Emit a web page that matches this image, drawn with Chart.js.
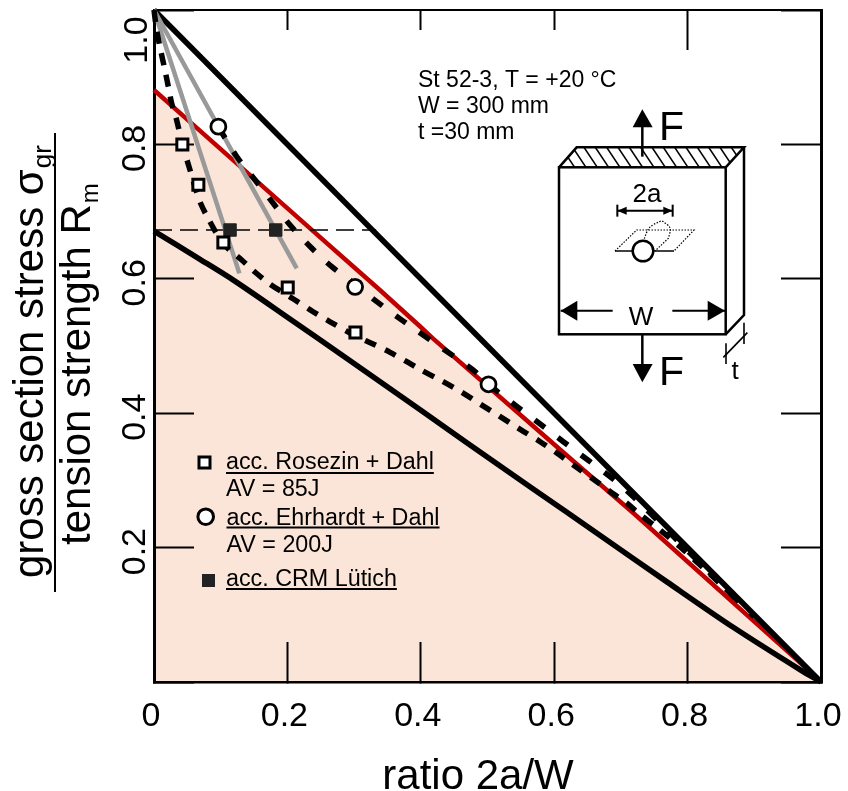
<!DOCTYPE html>
<html>
<head>
<meta charset="utf-8">
<style>html,body{margin:0;padding:0;background:#fff}canvas{display:block}</style>
<script src="https://cdn.jsdelivr.net/npm/chart.js@4/dist/chart.umd.min.js"></script>
</head>
<body>
<canvas id="c" width="848" height="791"></canvas>
<script>
const xTickLabels = ['0','0.2','0.4','0.6','0.8','1.0'];
const yTickLabels = ['','0.2','0.4','0.6','0.8','1.0'];

const upperLimit = [[0,1],[1,0]];
const redCurve = [[0,0.881],[0.059,0.829],[0.234,0.675],[0.339,0.583],[0.399,0.529],[0.4185,0.511],[0.619,0.337],[0.7186,0.2515],[0.964,0.033],[1,0]];
const lowerCurve = [[0,0.671],[0.069,0.629],[0.119,0.598],[0.194,0.547],[0.294,0.478],[0.399,0.405],[0.469,0.356],[0.569,0.287],[0.669,0.218],[0.769,0.149],[0.869,0.081],[0.969,0.018],[1,0]];
const dashedEhrhardt = [[0.0965,0.826],[0.124,0.782],[0.1515,0.747],[0.179,0.712],[0.204,0.68],[0.234,0.648],[0.2665,0.618],[0.3015,0.592],[0.334,0.566],[0.3737,0.537],[0.444,0.4885],[0.4788,0.464],[0.5015,0.443],[0.544,0.41],[0.579,0.384],[0.6137,0.3576],[0.651,0.33],[0.6865,0.3035],[0.7187,0.2757],[0.8088,0.1865],[0.849,0.147],[0.9,0.097]];
const dashedRosezin = [[0,1],[0.004,0.97],[0.01,0.94],[0.0165,0.91],[0.0215,0.886],[0.0265,0.861],[0.034,0.836],[0.0425,0.8],[0.054,0.762],[0.062,0.735],[0.07,0.712],[0.0825,0.6875],[0.104,0.652],[0.1315,0.628],[0.1515,0.61],[0.174,0.592],[0.209,0.57],[0.2385,0.551],[0.264,0.536],[0.302,0.515],[0.3285,0.503],[0.354,0.4905],[0.379,0.4766],[0.399,0.465],[0.4335,0.447],[0.4635,0.43],[0.4915,0.412],[0.519,0.395],[0.549,0.376],[0.579,0.3576],[0.604,0.3407],[0.634,0.319],[0.664,0.298],[0.6885,0.28],[0.709,0.266],[0.729,0.249],[0.759,0.226],[0.7935,0.197],[0.8535,0.142],[0.874,0.122]];
const greyLeft = [[0,1],[0.128,0.608]];
const greyRight = [[0,1],[0.214,0.6156]];
const thinDashed = [[0,0.6726],[0.333,0.6726]];
const rosezinPoints = [[0.0425,0.8],[0.0665,0.74],[0.104,0.654],[0.2005,0.587],[0.302,0.52]];
const ehrhardtPoints = [[0.0965,0.8264],[0.3015,0.588],[0.5015,0.443]];
const crmPoints = [[0.114,0.6726],[0.1825,0.6726]];

const toXY = a => a.map(p => ({x:p[0], y:p[1]}));
const FONT = '"Liberation Sans", Arial, sans-serif';
const line = (label, arr, color, width, order, extra) => Object.assign({
  label, data: toXY(arr), showLine:true, borderColor:color, borderWidth:width,
  pointRadius:0, pointHoverRadius:0, tension:0, fill:false, order, clip:6,
  borderCapStyle:'butt', borderJoinStyle:'round'
}, extra||{});
const marks = (label, arr, style, radius, bg, border, bw, order) => ({
  label, data: toXY(arr), showLine:false, pointStyle:style, pointRadius:radius,
  pointBackgroundColor:bg, pointBorderColor:border, pointBorderWidth:bw, order, clip:false
});

function txt(ctx, s, x, y, size, align){
  ctx.font = size+'px '+FONT; ctx.textAlign = align||'left'; ctx.textBaseline='alphabetic';
  ctx.fillStyle='#000'; ctx.fillText(s,x,y);
}
function under(ctx, s, x, y, size, uy){
  txt(ctx,s,x,y,size);
  const w = ctx.measureText(s).width;
  ctx.fillStyle='#000'; ctx.fillRect(x,uy,w,2);
}
function poly(ctx, pts, fill){
  ctx.beginPath();
  pts.forEach((p,i)=> i? ctx.lineTo(p[0],p[1]) : ctx.moveTo(p[0],p[1]));
  if(fill){ctx.closePath();ctx.fillStyle='#000';ctx.fill();} else ctx.stroke();
}

const annotations = {
  id:'annotations',
  afterDraw(chart){
    const ctx = chart.ctx;
    ctx.save();
    txt(ctx,'ratio 2a/W',478,789,42,'center');
    ctx.save();
    ctx.translate(43,578); ctx.rotate(-Math.PI/2);
    txt(ctx,'gross section stress σ',0,0,42);
    let w = ctx.measureText('gross section stress σ').width;
    txt(ctx,'gr',w+1,8,26);
    ctx.restore();
    ctx.save();
    ctx.translate(90,545); ctx.rotate(-Math.PI/2);
    txt(ctx,'tension strength R',0,0,42);
    w = ctx.measureText('tension strength R').width;
    txt(ctx,'m',w+1,8,24);
    ctx.restore();
    ctx.fillStyle='#000'; ctx.fillRect(54,133,2,459);
    ctx.save();
    ctx.translate(146.5,40); ctx.rotate(-Math.PI/2);
    txt(ctx,yTickLabels[5],0,0,34,'center');
    ctx.restore();
    txt(ctx,'St 52-3, T = +20 °C',418,87,23);
    txt(ctx,'W = 300 mm',418,113,23);
    txt(ctx,'t =30 mm',418,139,23);
    under(ctx,'acc. Rosezin + Dahl',226,469,23.3,472);
    txt(ctx,'AV = 85J',226,495.5,23.3);
    under(ctx,'acc. Ehrhardt + Dahl',226.5,525,23.3,526.5);
    txt(ctx,'AV = 200J',226.5,551.5,23.3);
    under(ctx,'acc. CRM Lütich',226,586,23.3,588);
    ctx.strokeStyle='#000'; ctx.lineWidth=3; ctx.fillStyle='#fff';
    ctx.fillRect(199,457,11,11); ctx.strokeRect(199,457,11,11);
    ctx.beginPath(); ctx.arc(205.7,516.7,7.8,0,Math.PI*2); ctx.fillStyle='#fff'; ctx.fill(); ctx.stroke();
    ctx.fillStyle='#222'; ctx.fillRect(202,574,13,13);
    // inset specimen
    const Z = a => a.map(p=>[540+p[0]/3, 90+p[1]/3]);
    ctx.lineJoin='miter'; ctx.lineCap='butt';
    ctx.strokeStyle='#000'; ctx.lineWidth=1.6;
    ctx.save();
    ctx.beginPath();
    Z([[57,232],[110,172],[612,172],[557,232]]).forEach((p,i)=> i?ctx.lineTo(p[0],p[1]):ctx.moveTo(p[0],p[1]));
    ctx.closePath(); ctx.clip();
    for(let i=0;i<17;i++){
      const x0 = 64+i*34;
      poly(ctx,Z([[x0,172],[x0+40,232]]));
    }
    ctx.restore();
    ctx.lineWidth=2.5;
    ctx.strokeRect(559,167.3,166.7,167);
    poly(ctx,Z([[57,232],[110,172],[612,172],[557,232]]));
    poly(ctx,Z([[612,172],[612,675],[557,733]]));
    poly(ctx,Z([[307,200],[307,105]]));
    poly(ctx,Z([[307,58],[278,112],[338,112]]),true);
    poly(ctx,Z([[307,733],[307,828]]));
    poly(ctx,Z([[278,822],[338,822],[307,877]]),true);
    txt(ctx,'F',659,140,41);
    txt(ctx,'F',659,385,41);
    txt(ctx,'2a',647,201.5,26,'center');
    ctx.lineWidth=2;
    poly(ctx,Z([[232,362],[398,362]]));
    poly(ctx,Z([[232,344],[232,380]]));
    poly(ctx,Z([[398,344],[398,380]]));
    poly(ctx,Z([[232,362],[260,350],[260,374]]),true);
    poly(ctx,Z([[398,362],[370,350],[370,374]]),true);
    ctx.lineWidth=1.5;
    poly(ctx,Z([[225,483],[278,483]]));
    poly(ctx,Z([[342,483],[402,483]]));
    ctx.save();
    ctx.setLineDash([1.5,1.5]); ctx.lineWidth=1.2;
    poly(ctx,Z([[225,483],[290,420],[462,420],[402,483]]));
    ctx.beginPath();
    const d = Z([[310,455],[325,410],[365,392],[395,412],[385,445],[345,483]]);
    ctx.moveTo(d[0][0],d[0][1]);
    ctx.bezierCurveTo(d[1][0],d[1][1],d[1][0],d[1][1],d[2][0],d[2][1]);
    ctx.bezierCurveTo(d[3][0],d[3][1],d[3][0],d[3][1],d[4][0],d[4][1]);
    ctx.lineTo(d[5][0],d[5][1]);
    ctx.stroke();
    ctx.restore();
    ctx.lineWidth=2.5; ctx.fillStyle='#fff';
    ctx.beginPath(); ctx.arc(643,251,10.3,0,Math.PI*2); ctx.fill(); ctx.stroke();
    txt(ctx,'W',641,325,26,'center');
    ctx.lineWidth=2;
    poly(ctx,Z([[62,662],[218,662]]));
    poly(ctx,Z([[397,662],[555,662]]));
    poly(ctx,Z([[62,662],[112,632],[112,692]]),true);
    poly(ctx,Z([[555,662],[503,632],[503,692]]),true);
    ctx.lineWidth=1.6;
    poly(ctx,Z([[622,728],[550,802]]));
    poly(ctx,Z([[612,698],[612,762]]));
    poly(ctx,Z([[558,760],[558,822]]));
    txt(ctx,'t',731.5,379,26);
    ctx.restore();
  }
};

const noPad = s => { s.paddingLeft = s.paddingRight = s.paddingTop = s.paddingBottom = 0; };
const tickGrid = len => ({drawOnChartArea:false, drawTicks:true, tickLength:-len, tickWidth:2, tickColor:'#000'});
const isLongTop = c => Math.abs(c.tick.value-0.8)<1e-6;

new Chart(document.getElementById('c'), {
  type:'scatter',
  data:{datasets:[
    marks('acc. Rosezin + Dahl',rosezinPoints,'rect',7.8,'#fff','#000',3,0),
    marks('acc. Ehrhardt + Dahl',ehrhardtPoints,'circle',7.5,'#fff','#000',2.8,0),
    marks('acc. CRM Lütich',crmPoints,'rect',8.8,'#222','#222',1,0),
    line('dashed Rosezin',dashedRosezin,'#000',5.5,1,{borderDash:[12,10], tension:0.3}),
    line('dashed Ehrhardt',dashedEhrhardt,'#000',5.5,1,{borderDash:[13,16], tension:0.3}),
    line('grey left',greyLeft,'#999',4.5,2),
    line('grey right',greyRight,'#999',4.5,2),
    line('upper limit',upperLimit,'#000',5.5,3),
    line('lower curve',lowerCurve,'#000',5.5,3,{tension:0.3}),
    line('thin dashed',thinDashed,'#000',1.5,4,{borderDash:[18,8]}),
    line('red curve',redCurve,'#c00000',4.5,5,{fill:'origin', backgroundColor:'#fbe5d8'})
  ]},
  options:{
    responsive:false, animation:false,
    layout:{padding:0, autoPadding:false},
    plugins:{legend:{display:false}, tooltip:{enabled:false}, title:{display:false}, filler:{drawTime:'beforeDraw', propagate:false}},
    scales:{
      x:{type:'linear', position:'bottom', min:0, max:1,
        afterFit(s){s.height=109;noPad(s);},
        ticks:{stepSize:0.2, font:{family:FONT,size:34}, color:'#000', padding:54, labelOffset:-3, maxRotation:0, minRotation:0, autoSkip:false,
          callback:(v,i)=>xTickLabels[i]},
        grid:tickGrid(40), border:{display:true,width:2.5,color:'#000'}},
      y:{type:'linear', position:'left', min:0, max:1,
        afterFit(s){s.width=154;noPad(s);},
        ticks:{stepSize:0.2, font:{family:FONT,size:34}, color:'#000', padding:35, minRotation:90, maxRotation:90, autoSkip:false, labelOffset:4, crossAlign:'center',
          callback:(v,i)=> i===5 ? '' : yTickLabels[i]},
        grid:tickGrid(40), border:{display:true,width:3,color:'#000'}},
      xTop:{type:'linear', position:'top', min:0, max:1, weight:2,
        afterFit(s){s.height=10;noPad(s);},
        ticks:{stepSize:0.2, display:false},
        grid:{drawOnChartArea:false, drawTicks:false}, border:{display:true,width:2,color:'#000'}},
      xTopShort:{type:'linear', position:'top', min:0, max:1, weight:1,
        afterFit(s){s.height=0;noPad(s);},
        ticks:{stepSize:0.2, display:false},
        grid:{drawOnChartArea:false, drawTicks:true, tickLength:-20, tickWidth:2,
          tickColor:c=> isLongTop(c) ? 'rgba(0,0,0,0)' : '#000'},
        border:{display:false}},
      xTopLong:{type:'linear', position:'top', min:0, max:1, weight:0,
        afterFit(s){s.height=0;noPad(s);},
        ticks:{stepSize:0.2, display:false},
        grid:{drawOnChartArea:false, drawTicks:true, tickLength:-40, tickWidth:2,
          tickColor:c=> isLongTop(c) ? '#000' : 'rgba(0,0,0,0)'},
        border:{display:false}},
      yRight:{type:'linear', position:'right', min:0, max:1,
        afterFit(s){s.width=27;noPad(s);},
        ticks:{stepSize:0.2, display:false},
        grid:tickGrid(40), border:{display:true,width:3,color:'#000'}}
    }
  },
  plugins:[annotations]
});
</script>
</body>
</html>
